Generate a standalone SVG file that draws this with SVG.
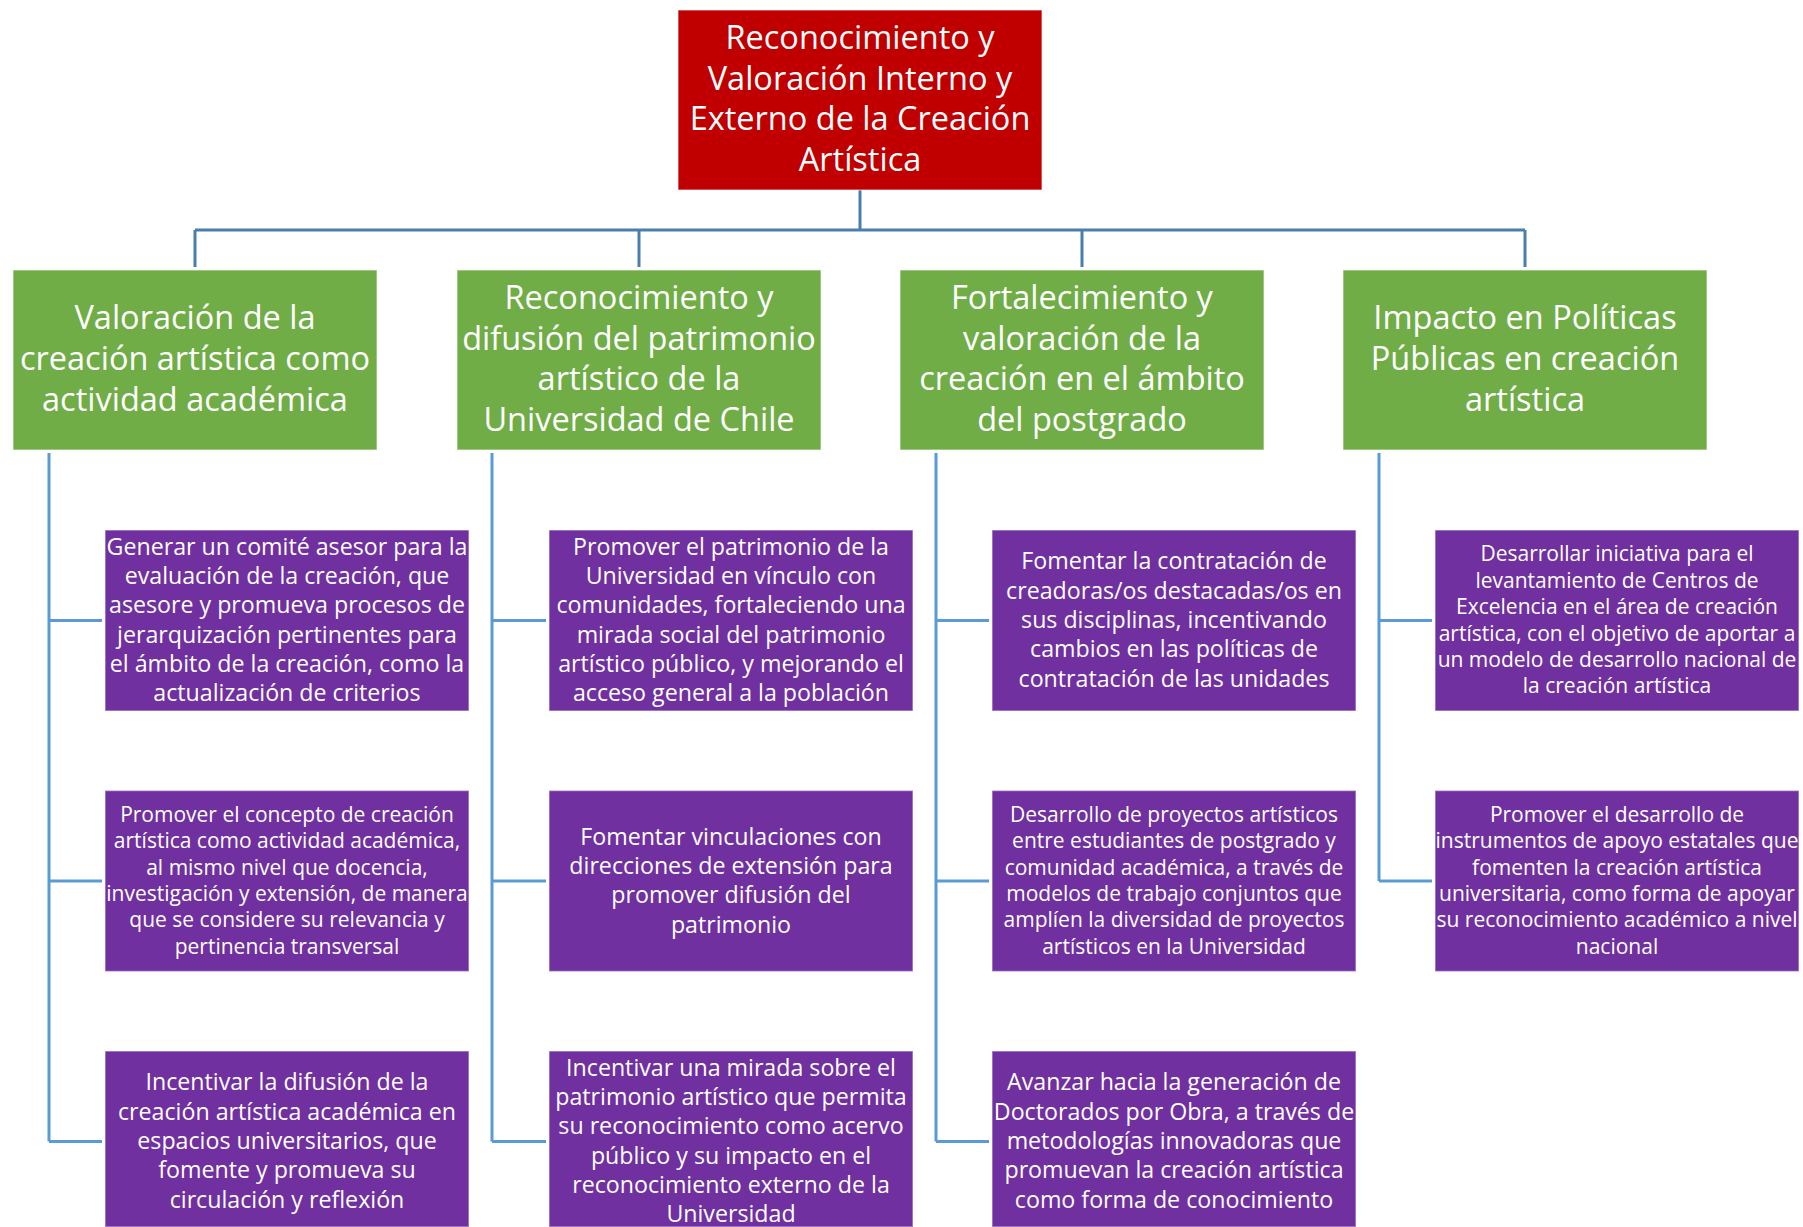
<svg xmlns="http://www.w3.org/2000/svg" width="1803" height="1227" viewBox="0 0 1803 1227">
<style>
text{font-family:'Open Sans','Noto Sans',sans-serif;fill:#ffffff;text-anchor:middle}
.root{fill:#C00000;stroke:#ffffff;stroke-opacity:.45;stroke-width:1.5}
.lvl1{fill:#70AD47;stroke:#ffffff;stroke-opacity:.45;stroke-width:1.5}
.lvl2{fill:#7030A0;stroke:#ffffff;stroke-opacity:.45;stroke-width:1.5}
.big{font-size:32.5px}
.lg{font-size:23.2px}
.sm{font-size:21px}
.c1{fill:none;stroke:#4A7EAB;stroke-width:3}
.c2{fill:none;stroke:#5B9BD5;stroke-width:3}
</style>
<rect width="1803" height="1227" fill="#ffffff"/>
<g id="connectors">
<path class="c1" d="M860,190V230M195,230H1525M195,230V267M639,230V267M1082,230V267M1525,230V267"/>
<path class="c2" d="M49,453V1141.5M49,620.5H102M49,881H102M49,1141.5H102"/>
<path class="c2" d="M492,453V1141.5M492,620.5H546M492,881H546M492,1141.5H546"/>
<path class="c2" d="M936,453V1141.5M936,620.5H989M936,881H989M936,1141.5H989"/>
<path class="c2" d="M1379,453V881M1379,620.5H1432M1379,881H1432"/>
</g>
<g id="root">
<rect class="root" x="678" y="10" width="364" height="180"/>
<text class="big"><tspan x="860" y="49">Reconocimiento y</tspan><tspan x="860" y="89.7">Valoración Interno y</tspan><tspan x="860" y="130.4">Externo de la Creación</tspan><tspan x="860" y="171">Artística</tspan></text>
</g>
<g id="g1">
<rect class="lvl1" x="13" y="270" width="364" height="180"/>
<text class="big"><tspan x="195" y="329.3">Valoración de la</tspan><tspan x="195" y="370">creación artística como</tspan><tspan x="195" y="410.7">actividad académica</tspan></text>
</g>
<g id="g2">
<rect class="lvl1" x="457" y="270" width="364" height="180"/>
<text class="big"><tspan x="639" y="309">Reconocimiento y</tspan><tspan x="639" y="349.7">difusión del patrimonio</tspan><tspan x="639" y="390.4">artístico de la</tspan><tspan x="639" y="431">Universidad de Chile</tspan></text>
</g>
<g id="g3">
<rect class="lvl1" x="900" y="270" width="364" height="180"/>
<text class="big"><tspan x="1082" y="309">Fortalecimiento y</tspan><tspan x="1082" y="349.7">valoración de la</tspan><tspan x="1082" y="390.4">creación en el ámbito</tspan><tspan x="1082" y="431">del postgrado</tspan></text>
</g>
<g id="g4">
<rect class="lvl1" x="1343" y="270" width="364" height="180"/>
<text class="big"><tspan x="1525" y="329.3">Impacto en Políticas</tspan><tspan x="1525" y="370">Públicas en creación</tspan><tspan x="1525" y="410.7">artística</tspan></text>
</g>
<g id="p1">
<rect class="lvl2" x="105" y="530" width="364" height="181"/>
<text class="lg"><tspan x="287" y="554.8">Generar un comité asesor para la</tspan><tspan x="287" y="584.1">evaluación de la creación, que</tspan><tspan x="287" y="613.4">asesore y promueva procesos de</tspan><tspan x="287" y="642.7">jerarquización pertinentes para</tspan><tspan x="287" y="672">el ámbito de la creación, como la</tspan><tspan x="287" y="701.3">actualización de criterios</tspan></text>
</g>
<g id="p2">
<rect class="lvl2" x="549" y="530" width="364" height="181"/>
<text class="lg"><tspan x="731" y="554.8">Promover el patrimonio de la</tspan><tspan x="731" y="584.1">Universidad en vínculo con</tspan><tspan x="731" y="613.4">comunidades, fortaleciendo una</tspan><tspan x="731" y="642.7">mirada social del patrimonio</tspan><tspan x="731" y="672">artístico público, y mejorando el</tspan><tspan x="731" y="701.3">acceso general a la población</tspan></text>
</g>
<g id="p3">
<rect class="lvl2" x="992" y="530" width="364" height="181"/>
<text class="lg"><tspan x="1174" y="569.4">Fomentar la contratación de</tspan><tspan x="1174" y="598.7">creadoras/os destacadas/os en</tspan><tspan x="1174" y="628">sus disciplinas, incentivando</tspan><tspan x="1174" y="657.3">cambios en las políticas de</tspan><tspan x="1174" y="686.6">contratación de las unidades</tspan></text>
</g>
<g id="p4">
<rect class="lvl2" x="1435" y="530" width="364" height="181"/>
<text class="sm"><tspan x="1617" y="561.3">Desarrollar iniciativa para el</tspan><tspan x="1617" y="587.7">levantamiento de Centros de</tspan><tspan x="1617" y="614.1">Excelencia en el área de creación</tspan><tspan x="1617" y="640.5">artística, con el objetivo de aportar a</tspan><tspan x="1617" y="666.9">un modelo de desarrollo nacional de</tspan><tspan x="1617" y="693.3">la creación artística</tspan></text>
</g>
<g id="q1">
<rect class="lvl2" x="105" y="790.5" width="364" height="181"/>
<text class="sm"><tspan x="287" y="821.8">Promover el concepto de creación</tspan><tspan x="287" y="848.2">artística como actividad académica,</tspan><tspan x="287" y="874.6">al mismo nivel que docencia,</tspan><tspan x="287" y="901">investigación y extensión, de manera</tspan><tspan x="287" y="927.4">que se considere su relevancia y</tspan><tspan x="287" y="953.8">pertinencia transversal</tspan></text>
</g>
<g id="q2">
<rect class="lvl2" x="549" y="790.5" width="364" height="181"/>
<text class="lg"><tspan x="731" y="844.6">Fomentar vinculaciones con</tspan><tspan x="731" y="873.9">direcciones de extensión para</tspan><tspan x="731" y="903.2">promover difusión del</tspan><tspan x="731" y="932.5">patrimonio</tspan></text>
</g>
<g id="q3">
<rect class="lvl2" x="992" y="790.5" width="364" height="181"/>
<text class="sm"><tspan x="1174" y="821.8">Desarrollo de proyectos artísticos</tspan><tspan x="1174" y="848.2">entre estudiantes de postgrado y</tspan><tspan x="1174" y="874.6">comunidad académica, a través de</tspan><tspan x="1174" y="901">modelos de trabajo conjuntos que</tspan><tspan x="1174" y="927.4">amplíen la diversidad de proyectos</tspan><tspan x="1174" y="953.8">artísticos en la Universidad</tspan></text>
</g>
<g id="q4">
<rect class="lvl2" x="1435" y="790.5" width="364" height="181"/>
<text class="sm"><tspan x="1617" y="821.8">Promover el desarrollo de</tspan><tspan x="1617" y="848.2">instrumentos de apoyo estatales que</tspan><tspan x="1617" y="874.6">fomenten la creación artística</tspan><tspan x="1617" y="901">universitaria, como forma de apoyar</tspan><tspan x="1617" y="927.4">su reconocimiento académico a nivel</tspan><tspan x="1617" y="953.8">nacional</tspan></text>
</g>
<g id="r1">
<rect class="lvl2" x="105" y="1051" width="364" height="176"/>
<text class="lg"><tspan x="287" y="1090.4">Incentivar la difusión de la</tspan><tspan x="287" y="1119.7">creación artística académica en</tspan><tspan x="287" y="1149">espacios universitarios, que</tspan><tspan x="287" y="1178.3">fomente y promueva su</tspan><tspan x="287" y="1207.6">circulación y reflexión</tspan></text>
</g>
<g id="r2">
<rect class="lvl2" x="549" y="1051" width="364" height="176"/>
<text class="lg"><tspan x="731" y="1075.8">Incentivar una mirada sobre el</tspan><tspan x="731" y="1105.1">patrimonio artístico que permita</tspan><tspan x="731" y="1134.4">su reconocimiento como acervo</tspan><tspan x="731" y="1163.7">público y su impacto en el</tspan><tspan x="731" y="1193">reconocimiento externo de la</tspan><tspan x="731" y="1222.2">Universidad</tspan></text>
</g>
<g id="r3">
<rect class="lvl2" x="992" y="1051" width="364" height="176"/>
<text class="lg"><tspan x="1174" y="1090.4">Avanzar hacia la generación de</tspan><tspan x="1174" y="1119.7">Doctorados por Obra, a través de</tspan><tspan x="1174" y="1149">metodologías innovadoras que</tspan><tspan x="1174" y="1178.3">promuevan la creación artística</tspan><tspan x="1174" y="1207.6">como forma de conocimiento</tspan></text>
</g>
</svg>
